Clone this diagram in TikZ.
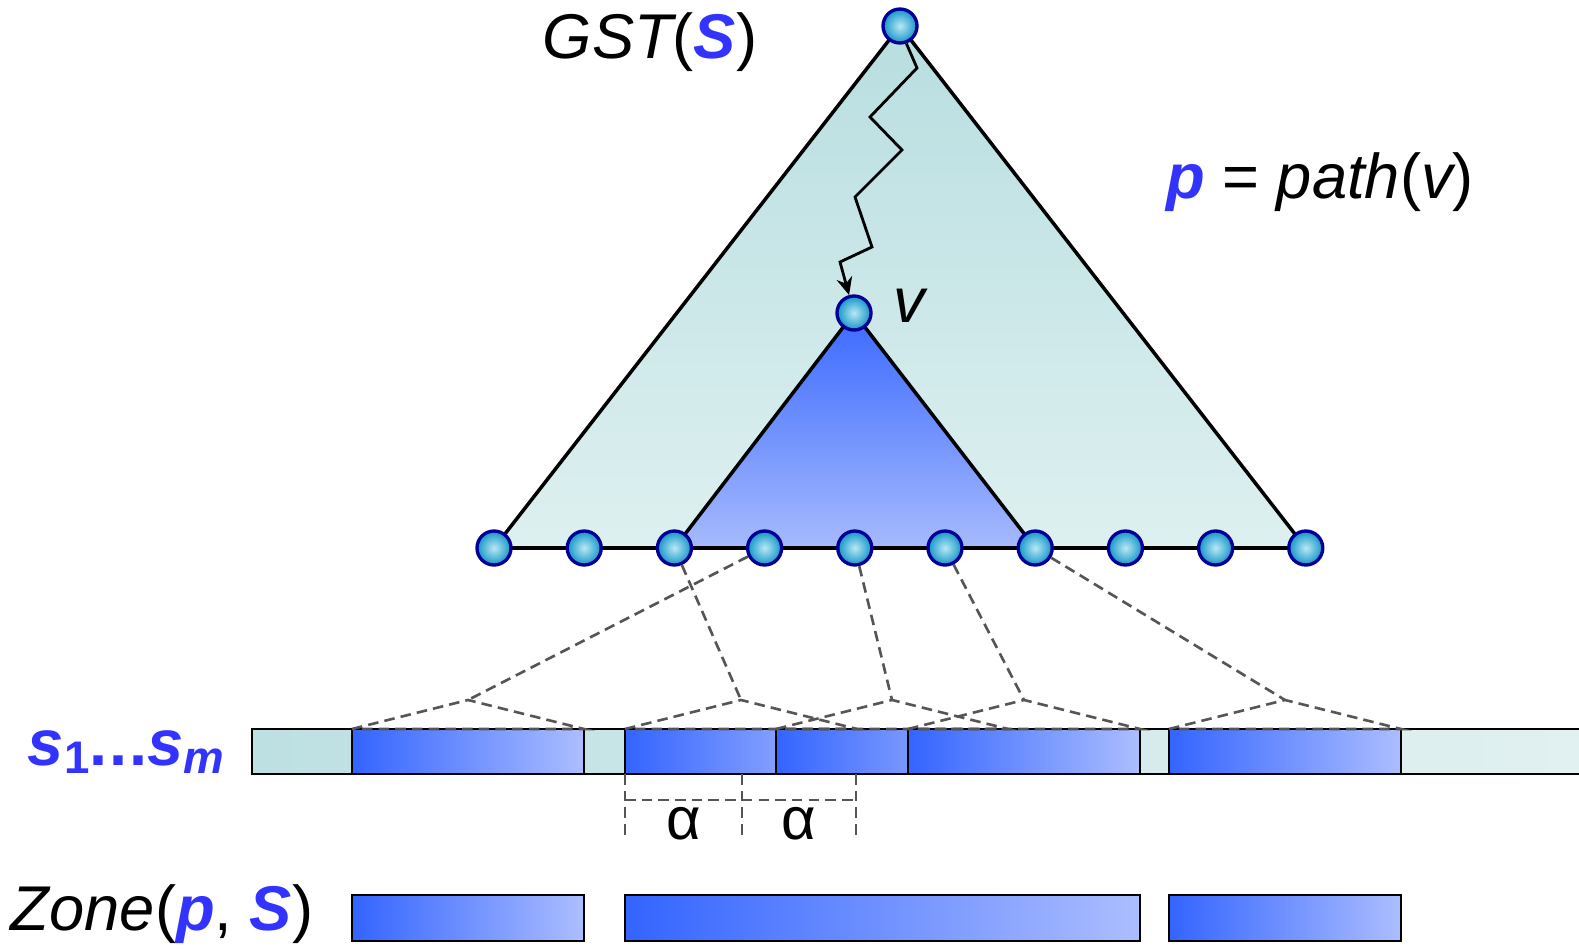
\documentclass[tikz,border=0pt]{standalone}
\usepackage{fontspec}
\setmainfont{Liberation Sans}
\usetikzlibrary{arrows.meta}

\definecolor{hiblue}{RGB}{51,51,255}
\definecolor{rimblue}{RGB}{0,0,150}
\definecolor{ballhi}{RGB}{185,232,244}
\definecolor{balllo}{RGB}{18,150,200}
\definecolor{treetop}{RGB}{184,222,224}
\definecolor{treebot}{RGB}{222,240,240}
\definecolor{subtop}{RGB}{58,105,255}
\definecolor{subbot}{RGB}{166,186,252}
\definecolor{blkdark}{RGB}{51,100,255}
\definecolor{blklight}{RGB}{172,190,255}
\definecolor{strleft}{RGB}{189,224,226}
\definecolor{strright}{RGB}{226,241,241}
\definecolor{fangray}{RGB}{85,85,85}

\begin{document}
\begin{tikzpicture}[x=0.02cm, y=-0.02cm,
    leaf/.style={circle, draw=rimblue, line width=1.9pt, inner sep=0pt, minimum size=0.68cm,
                 inner color=ballhi, outer color=balllo},
    occ/.style={draw=black, line width=0.8pt, inner sep=0pt, outer sep=0pt, anchor=north west,
                left color=blkdark, right color=blklight, minimum width=4.64cm, minimum height=0.9cm},
    fan/.style={draw=fangray, line width=1.5pt, dash pattern=on 6pt off 3.5pt},
    lbl/.style={inner sep=0pt, font={\fontsize{36}{40}\selectfont}}
]
\useasboundingbox (0,0) rectangle (1579,950);

% Positions
\coordinate (ptop) at (900,26);
\coordinate (pv) at (854,313);
\foreach \i in {1,...,10}
  \coordinate (p\i) at ({494+90.2*(\i-1)},548);

% Trees
\shade[top color=treetop, bottom color=treebot] (ptop) -- (p1) -- (p10) -- cycle;
\draw[line width=2pt, line join=round] (ptop) -- (p1) -- (p10) -- cycle;
\shade[top color=subtop, bottom color=subbot] (pv) -- (p3) -- (p7) -- cycle;
\draw[line width=2pt, line join=round] (pv) -- (p3) -- (p7) -- cycle;

% Nodes
\node[leaf] (root) at (ptop) {};
\node[leaf] (v) at (pv) {};
\foreach \i in {1,...,10}
  \node[leaf] (l\i) at (p\i) {};

% Path to v
\draw[line width=1.6pt, -{Stealth[length=10pt,width=9pt]}] (root.-70) -- (917,68) -- (870,117) -- (902,150)
  -- (855,197) -- (872,247) -- (840,262) -- (v);

% Labels
\node[lbl] (gst) at (650,42) {\itshape GST\upshape(\textcolor{hiblue}{\bfseries\itshape S})};
\node[lbl] (pathv) at (1320,182) {\textcolor{hiblue}{\bfseries\itshape p} = \itshape path\upshape(\itshape v\upshape)};
\node[lbl, anchor=west] (vname) at (893,306) {\itshape v};

% Strings
\fill[left color=strleft, right color=strright] (252,729) rectangle (1600,774);
\draw[line width=1.2pt] (1600,729) -- (252,729) -- (252,774) -- (1600,774);
\node[occ] (o1) at (352,729) {};
\node[occ] (o2) at (625,729) {};
\node[occ] (o3) at (776,729) {};
\node[occ] (o4) at (908,729) {};
\node[occ] (o5) at (1169,729) {};
\node[lbl, font={\fontsize{37}{40}\selectfont\bfseries}, text=hiblue] (slab) at (126,752)
  {\itshape s\raisebox{-0.22ex}{\upshape\fontsize{26}{26}\selectfont 1}\upshape.\kern1pt.\kern1pt.\itshape s\raisebox{-0.22ex}{\fontsize{26}{26}\selectfont m}};

% Occurrences
\coordinate (a1) at (468,700);
\coordinate (a2) at (741,700);
\coordinate (a3) at (892,700);
\coordinate (a4) at (1024,700);
\coordinate (a5) at (1285,700);
\foreach \k in {1,...,5}
  \draw[fan] (o\k.north west) -- (a\k) -- (o\k.north east) -- cycle;
\draw[fan] (l4) -- (a1);
\draw[fan] (l3) -- (a2);
\draw[fan] (l5) -- (a3);
\draw[fan] (l6) -- (a4);
\draw[fan] (l7) -- (a5);

% Alpha
\coordinate (t1) at (625,774);
\coordinate (t2) at (742,774);
\coordinate (t3) at (856,774);
\foreach \t in {1,2,3}
  \draw[fan] (t\t) -- ++(0,62);
\draw[fan] ([yshift=-0.52cm]t1) -- ([yshift=-0.52cm]t3);
\node[lbl, font={\fontsize{34}{36}\selectfont}] (al1) at (684,824) {α};
\node[lbl, font={\fontsize{34}{36}\selectfont}] (al2) at (799,824) {α};

% Zone
\node[occ, minimum height=0.92cm] (z1) at (352,895) {};
\node[occ, minimum height=0.92cm, minimum width=10.3cm] (z2) at (625,895) {};
\node[occ, minimum height=0.92cm] (z3) at (1169,895) {};
\node[lbl] (zone) at (162,914)
  {\itshape Zone\upshape(\textcolor{hiblue}{\bfseries\itshape p}, \textcolor{hiblue}{\bfseries\itshape S})};

\end{tikzpicture}
\end{document}
